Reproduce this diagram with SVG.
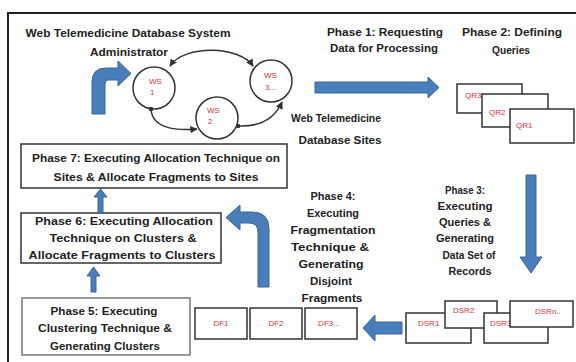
<svg xmlns="http://www.w3.org/2000/svg" width="576" height="362" viewBox="0 0 576 362">
<style>
.t{font-family:"Liberation Sans",Arial,sans-serif;font-weight:bold;font-size:11.5px;fill:#222;text-anchor:middle}
.r{font-family:"Liberation Sans",Arial,sans-serif;font-size:8px;fill:#e0303a}
.rc{font-family:"Liberation Sans",Arial,sans-serif;font-size:8px;fill:#e0303a;text-anchor:middle}
.box{fill:#fff;stroke:#333;stroke-width:1.5}
.circ{fill:#fff;stroke:#333;stroke-width:1.5}
.blue{fill:#4a7ebb;stroke:#3a6496;stroke-width:1}
.arc{fill:none;stroke:#333;stroke-width:1.5}
</style>
<defs>
<marker id="ah" viewBox="0 0 10 10" refX="9" refY="5" markerWidth="5" markerHeight="5" orient="auto-start-reverse">
<path d="M0,0 L10,5 L0,10 z" fill="#333"/>
</marker>
<marker id="dot" viewBox="0 0 10 10" refX="5" refY="5" markerWidth="3" markerHeight="3">
<circle cx="5" cy="5" r="5" fill="#333"/>
</marker>
</defs>
<rect width="576" height="362" fill="#fff"/>
<path d="M576,13 H8 V362" fill="none" stroke="#222" stroke-width="2"/>

<g id="title">
<text class="t" x="128" y="37" textLength="205" lengthAdjust="spacingAndGlyphs">Web Telemedicine Database System</text>
<text class="t" x="129" y="56" textLength="78" lengthAdjust="spacingAndGlyphs">Administrator</text>
</g>

<g id="ws1">
<circle class="circ" cx="154" cy="88" r="21"/>
<text class="r" x="149" y="84" font-size="7">WS</text>
<text class="r" x="150" y="95" font-size="7">1</text>
</g>
<g id="ws2">
<circle class="circ" cx="217" cy="118" r="21"/>
<text class="r" x="207" y="113" font-size="7">WS</text>
<text class="r" x="208" y="124" font-size="7">2</text>
</g>
<g id="ws3">
<circle class="circ" cx="271" cy="81" r="21"/>
<text class="r" x="264" y="78" font-size="9">WS</text>
<text class="r" x="265" y="90" font-size="9">3...</text>
</g>

<g id="sites-label">
<text class="t" x="336" y="122" textLength="90" lengthAdjust="spacingAndGlyphs">Web Telemedicine</text>
<text class="t" x="340" y="144" textLength="83" lengthAdjust="spacingAndGlyphs">Database Sites</text>
</g>

<g id="phase1">
<text class="t" x="385" y="36" textLength="116" lengthAdjust="spacingAndGlyphs">Phase 1: Requesting</text>
<text class="t" x="384" y="52" textLength="108" lengthAdjust="spacingAndGlyphs">Data for Processing</text>
</g>

<g id="phase2">
<text class="t" x="512" y="36" textLength="100" lengthAdjust="spacingAndGlyphs">Phase 2: Defining</text>
<text class="t" x="511" y="54" textLength="38" lengthAdjust="spacingAndGlyphs">Queries</text>
</g>

<g id="queries">
<rect class="box" x="457" y="84" width="65" height="29"/>
<text class="r" x="465" y="98">QR3</text>
<rect class="box" x="482" y="94" width="66" height="33"/>
<text class="r" x="489" y="115">QR2</text>
<rect class="box" x="510" y="109" width="64" height="34"/>
<text class="r" x="516" y="128">QR1</text>
</g>

<g id="phase3">
<text class="t" x="465" y="194" textLength="40" lengthAdjust="spacingAndGlyphs">Phase 3:</text>
<text class="t" x="465" y="210" textLength="55" lengthAdjust="spacingAndGlyphs">Executing</text>
<text class="t" x="465" y="226" textLength="52" lengthAdjust="spacingAndGlyphs">Queries &amp;</text>
<text class="t" x="465" y="242" textLength="58" lengthAdjust="spacingAndGlyphs">Generating</text>
<text class="t" x="469" y="259" textLength="53" lengthAdjust="spacingAndGlyphs">Data Set of</text>
<text class="t" x="470" y="275" textLength="43" lengthAdjust="spacingAndGlyphs">Records</text>
</g>

<g id="records">
<rect class="box" x="406" y="313" width="65" height="30"/>
<text class="r" x="418" y="326">DSR1</text>
<rect class="box" x="445" y="301" width="52" height="27"/>
<text class="r" x="453" y="313">DSR2</text>
<rect class="box" x="484" y="313" width="64" height="30"/>
<text class="r" x="490" y="326">DSR3</text>
<rect class="box" x="510" y="301" width="63" height="26"/>
<text class="r" x="535" y="314">DSRn..</text>
</g>

<g id="phase4">
<text class="t" x="333" y="200" textLength="45" lengthAdjust="spacingAndGlyphs">Phase 4:</text>
<text class="t" x="333" y="217" textLength="52" lengthAdjust="spacingAndGlyphs">Executing</text>
<text class="t" x="333" y="234" textLength="85" lengthAdjust="spacingAndGlyphs">Fragmentation</text>
<text class="t" x="330" y="251" textLength="78" lengthAdjust="spacingAndGlyphs">Technique &amp;</text>
<text class="t" x="331" y="268" textLength="65" lengthAdjust="spacingAndGlyphs">Generating</text>
<text class="t" x="331" y="285" textLength="42" lengthAdjust="spacingAndGlyphs">Disjoint</text>
<text class="t" x="332" y="302" textLength="61" lengthAdjust="spacingAndGlyphs">Fragments</text>
</g>

<g id="fragments">
<rect class="box" x="195" y="308" width="52" height="31"/>
<text class="rc" x="221" y="326">DF1</text>
<rect class="box" x="250" y="308" width="52" height="31"/>
<text class="rc" x="276" y="326">DF2</text>
<rect class="box" x="305" y="308" width="52" height="31"/>
<text class="rc" x="329" y="326">DF3...</text>
</g>

<g id="phase5">
<rect class="box" x="22" y="298" width="168" height="57" style="stroke:#777"/>
<text class="t" x="104" y="315" textLength="107" lengthAdjust="spacingAndGlyphs">Phase 5: Executing</text>
<text class="t" x="105" y="332" textLength="134" lengthAdjust="spacingAndGlyphs">Clustering Technique &amp;</text>
<text class="t" x="105" y="350" textLength="110" lengthAdjust="spacingAndGlyphs">Generating Clusters</text>
</g>

<g id="phase6">
<rect class="box" x="21" y="213" width="200" height="50"/>
<text class="t" x="124" y="225" textLength="178" lengthAdjust="spacingAndGlyphs">Phase 6: Executing Allocation</text>
<text class="t" x="123" y="242" textLength="147" lengthAdjust="spacingAndGlyphs">Technique on Clusters &amp;</text>
<text class="t" x="122" y="259" textLength="187" lengthAdjust="spacingAndGlyphs">Allocate Fragments to Clusters</text>
</g>

<g id="phase7">
<rect class="box" x="21" y="144" width="266" height="44"/>
<text class="t" x="156" y="162" textLength="248" lengthAdjust="spacingAndGlyphs">Phase 7: Executing Allocation Technique on</text>
<text class="t" x="156" y="181" textLength="205" lengthAdjust="spacingAndGlyphs">Sites &amp; Allocate Fragments to Sites</text>
</g>

<g id="connectors">
<path class="arc" d="M253,66 C240,46 185,44 170,66" marker-start="url(#ah)" marker-end="url(#ah)"/>
<path class="arc" d="M151,109 C152,128 175,131 197,129" marker-start="url(#dot)" marker-end="url(#ah)"/>
<path class="arc" d="M238,126 C262,127 275,118 282,102" marker-start="url(#dot)" marker-end="url(#ah)"/>
<path class="blue" d="M92,114 V82 Q92,68 106,68 H118 V61 L131,73.5 L118,86 V80 H108 Q105,80 105,84 V114 Z"/>
<path class="blue" d="M315,82 H428 V77 L439,87.5 L428,98 V93 H315 Z"/>
<path class="blue" d="M526,175 H536 V257 H542 L531,273 L520,257 H526 Z"/>
<path class="blue" d="M402,322 H375 V315 L363,328 L375,341 V334 H402 Z"/>
<path class="blue" d="M258,287 V232 Q258,223 249,223 H240 V230 L226,217.5 L240,205 V212 H252 Q269,212 269,229 V287 Z"/>
<path class="blue" d="M98,213 V197 H94 L100.5,189 L107,197 H103 V213 Z"/>
<path class="blue" d="M91,292 V276 H87 L93.5,267 L100,276 H96 V292 Z"/>
</g>
</svg>
